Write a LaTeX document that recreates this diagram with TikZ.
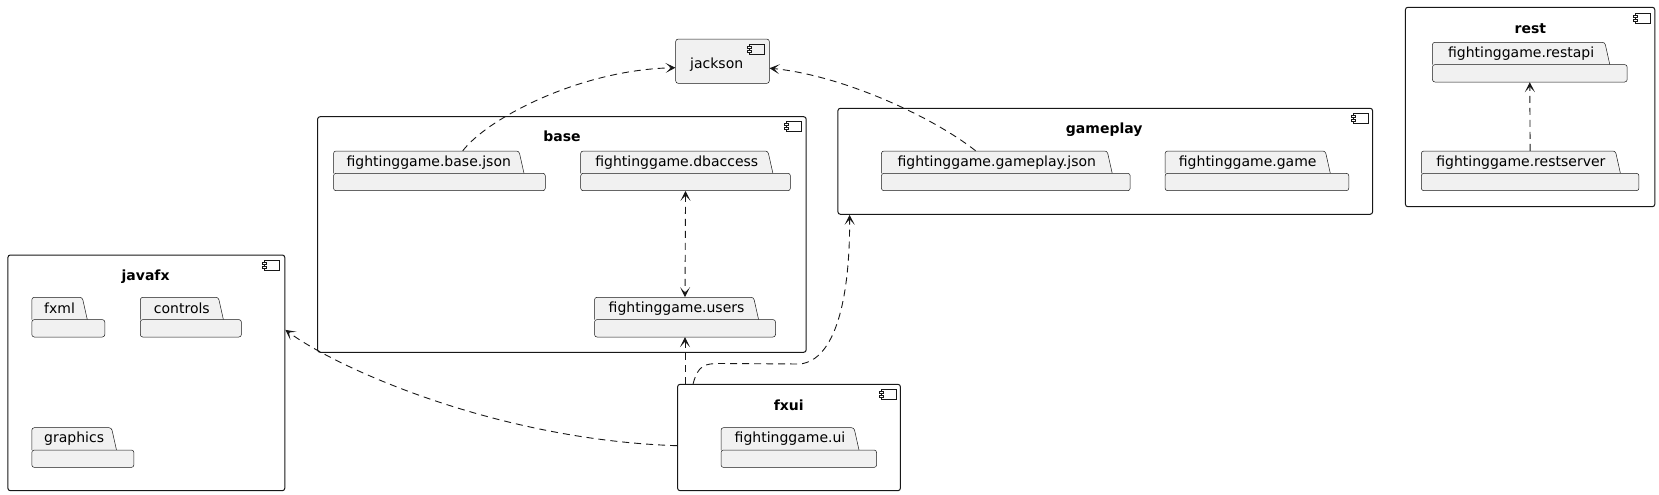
\documentclass[tikz,border=0pt]{standalone}
\usepackage{fontspec}
\setmainfont{DejaVu Sans}
\usetikzlibrary{arrows.meta,calc,fit}
\definecolor{pfill}{HTML}{F1F1F1}
\definecolor{pline}{HTML}{181818}
\tikzset{
 pkgshape/.style={draw=pline, fill=pfill, line width=0.5pt, rounded corners=2.5pt},
 pkgtext/.style={font=\fontsize{14}{16}\selectfont, inner sep=0pt, text=black},
 container/.style={draw=pline, line width=1pt, rounded corners=2.5pt, inner sep=0pt},
 ctitle/.style={font=\fontsize{14}{16}\selectfont\bfseries, inner sep=0pt},
 tip/.tip={Stealth[length=10pt,width=10pt,inset=5.5pt]},
 dep/.style={draw=pline, line width=0.9pt, dash pattern=on 7pt off 5pt, -tip},
 bidep/.style={draw=pline, line width=0.9pt, dash pattern=on 7pt off 5pt, tip-tip},
}
% #1 name, #2 x left, #3 y top, #4 tab right, #5 body right, #6 text
\newcommand\pkgdraw[6]{%
  \path[pkgshape] (#2,#3+22.3) -- (#2,#3) -- (#4-5,#3) -- (#4,#3+22.3);
  \draw[pkgshape] (#2,#3+22.3) rectangle (#5,#3+39.7);
  \node[pkgtext] at ({(#2+#4)/2},#3+11.3) {#6};
  \node[fit={(#2,#3) (#5,#3+39.7)}, inner sep=0pt] (#1) {};
}
% component icon, #1 #2 = top right corner
\newcommand\compicon[2]{%
  \draw[pline, line width=0.7pt] (#1-15,#2) rectangle (#1,#2+10);
  \draw[pline, line width=0.6pt, fill=white] (#1-17,#2+2) rectangle (#1-13,#2+4);
  \draw[pline, line width=0.6pt, fill=white] (#1-17,#2+6) rectangle (#1-13,#2+8);
}
\begin{document}
\begin{tikzpicture}[x=1pt, y=-1pt]
\useasboundingbox (0,0) rectangle (1659,495);

% jackson
\node[draw=pline, fill=pfill, line width=0.5pt, rounded corners=2.5pt,
      minimum width=93.6pt, minimum height=44.3pt, inner sep=0pt] (jackson) at (722.5,61.2) {};
\node[pkgtext] (jacksontext) at (716.7,65) {jackson};
\compicon{764.3}{44.3}

% base
\node[container, fit={(317.6,116.7) (806.2,352.3)}] (base) {};
\node[ctitle] (basetitle) at (562,136.7) {base};
\compicon{801}{121.7}
\pkgdraw{bj}{333.5}{151}{524}{545.3}{fightinggame.base.json}
\pkgdraw{db}{580.7}{151}{772.9}{790.4}{fightinggame.dbaccess}
\pkgdraw{users}{594.5}{297.3}{758.6}{775.5}{fightinggame.users}

% gameplay
\node[container, fit={(837.9,108.3) (1372.6,214.3)}] (gameplay) {};
\node[ctitle] (gameplaytitle) at (1104.2,129.3) {gameplay};
\compicon{1368}{113}
\pkgdraw{gpj}{881.4}{151}{1112.2}{1130.2}{fightinggame.gameplay.json}
\pkgdraw{game}{1165.1}{151}{1330.3}{1348.8}{fightinggame.game}

% rest
\node[container, fit={(1405.4,7.3) (1654.8,206.7)}] (rest) {};
\node[ctitle] (resttitle) at (1530.4,28.3) {rest};
\compicon{1650.5}{13.3}
\pkgdraw{rapi}{1432.4}{42.3}{1609.8}{1627.2}{fightinggame.restapi}
\pkgdraw{rserver}{1421.3}{151}{1620.4}{1638.9}{fightinggame.restserver}

% javafx
\node[container, fit={(7.9,255) (284.8,490.7)}] (javafx) {};
\node[ctitle] (javafxtitle) at (145.6,276.7) {javafx};
\compicon{279.5}{260}
\pkgdraw{fxml}{31.8}{297.3}{87.3}{104.8}{fxml}
\pkgdraw{controls}{140.3}{297.3}{223.4}{241.4}{controls}
\pkgdraw{graphics}{31.8}{427.7}{116.5}{133.9}{graphics}

% fxui
\node[container, fit={(677.6,384.3) (900.4,490.7)}] (fxui) {};
\node[ctitle] (fxuititle) at (788.8,405) {fxui};
\compicon{896.2}{389}
\pkgdraw{ui}{721}{427.7}{859}{876.6}{fightinggame.ui}

% connectors
\draw[dep] ($(bj.north west)!0.61!(bj.north east)$) .. controls (488,118) and (580,70) .. ($(jackson.west)+(0,6.5)$);
\draw[dep] ($(gpj.north west)!0.379!(gpj.north east)$) .. controls (930,115) and (840,75) .. ($(jackson.east)+(0,7)$);
\draw[bidep] (db.south) -- (users.north);
\draw[dep] (users.south |- fxui.north) -- (users.south);
\draw[dep] ($(fxui.north west)+(16,0)$) .. controls (698,365) and (705,363.5) .. (720,363.5) -- (800,364) .. controls (835,360) and (850,300) .. ($(gameplay.south west)+(12.2,0)$);
\draw[dep] ($(fxui.west)+(0,8.2)$) .. controls (500,440) and (340,370) .. ($(javafx.east)+(0,-43)$);
\draw[dep] (rserver.north) -- (rapi.south);
\end{tikzpicture}
\end{document}
